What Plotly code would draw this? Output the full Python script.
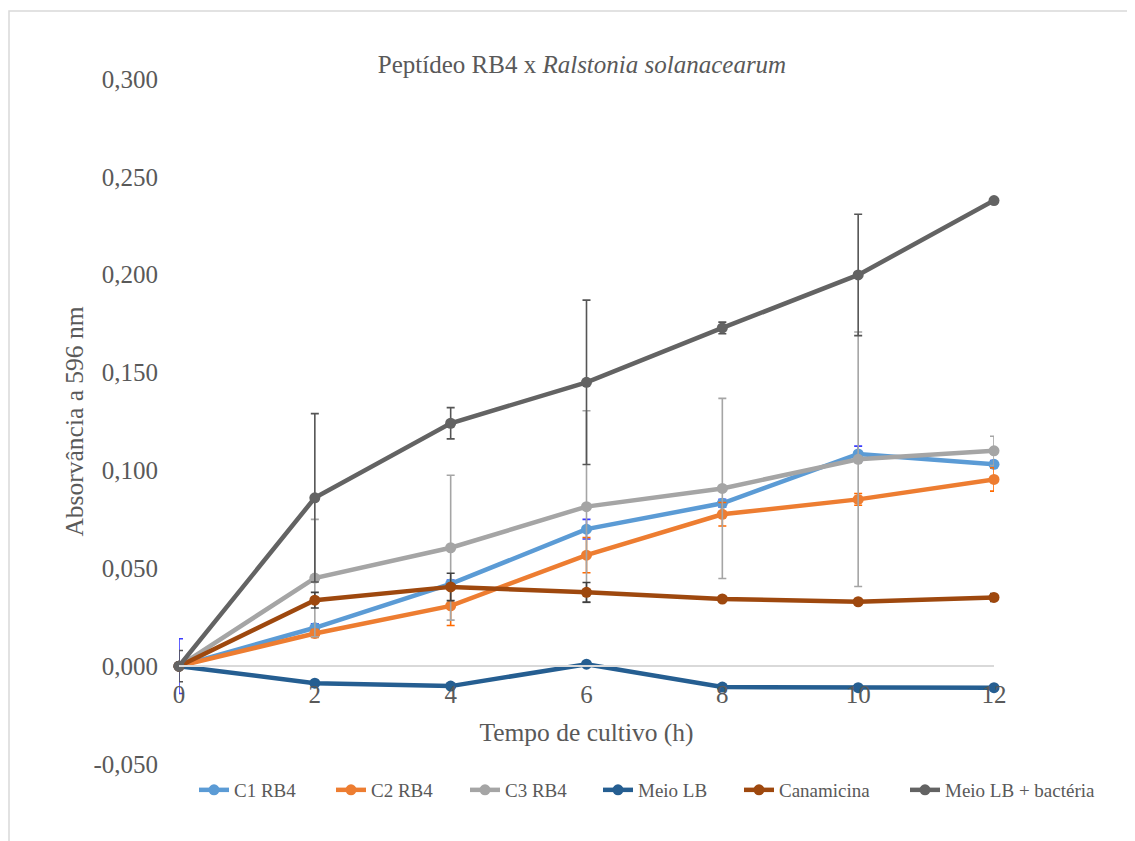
import plotly.graph_objects as go

hours = [0, 2, 4, 6, 8, 10, 12]

c1_rb4 = [0.000, 0.0196, 0.042, 0.070, 0.0832, 0.1084, 0.1031]
c2_rb4 = [0.000, 0.0167, 0.0308, 0.0567, 0.0776, 0.0852, 0.0954]
c3_rb4 = [0.000, 0.045, 0.0605, 0.0815, 0.0908, 0.1057, 0.110]
meio_lb = [0.000, -0.0087, -0.0102, 0.001, -0.0107, -0.011, -0.011]
canamicina = [0.000, 0.0337, 0.0405, 0.0377, 0.0343, 0.0329, 0.0351]
meio_bact = [0.000, 0.086, 0.1241, 0.145, 0.1728, 0.1999, 0.2379]

c1_err = [0.014, 0.002, 0.002, 0.005, 0.002, 0.004, 0.002]
c2_err = [0.000, 0.002, 0.010, 0.009, 0.006, 0.003, 0.006]
c3_err = [0.000, 0.030, 0.037, 0.049, 0.046, 0.065, 0.0075]
meio_lb_err = [0.000, 0.000, 0.000, 0.000, 0.000, 0.000, 0.000]
cana_err = [0.000, 0.004, 0.007, 0.005, 0.001, 0.001, 0.002]
bact_err = [0.008, 0.043, 0.008, 0.042, 0.003, 0.031, 0.000]

y_ticks = [-0.05, 0.0, 0.05, 0.10, 0.15, 0.20, 0.25, 0.30]
y_tick_text = ["-0,050", "0,000", "0,050", "0,100", "0,150", "0,200", "0,250", "0,300"]

series = [
    ("C1 RB4", c1_rb4, c1_err, "#5b9bd5", "#3b3bff"),
    ("C2 RB4", c2_rb4, c2_err, "#ed7d31", "#ff6a00"),
    ("C3 RB4", c3_rb4, c3_err, "#a5a5a5", "#a5a5a5"),
    ("Meio LB", meio_lb, meio_lb_err, "#255e91", "#255e91"),
    ("Canamicina", canamicina, cana_err, "#9e480e", "#404040"),
    ("Meio LB + bactéria", meio_bact, bact_err, "#636363", "#555555"),
]
# screen x where each legend entry's line starts
legend_starts = [201, 338, 472, 605, 746, 912]

FONT = "Liberation Serif, Times New Roman, serif"
GREY = "#595959"

OFF = 8  # page body margin
W, H = 1135 - OFF, 841 - OFF
# plot area in screen pixels: x 179..994, y 79..764
L, T = 179 - OFF, 79 - OFF
R, B = W - (994 - OFF), H - (764 - OFF)
pw, ph = W - L - R, H - T - B

def px_x(sx):
    return (sx - OFF - L) / pw

def px_y(sy):
    return 1 - (sy - OFF - T) / ph

fig = go.Figure()
legend_layouts = {}
for i, (name, vals, err, col, ecol) in enumerate(series):
    lg = f"legend{i + 2}"
    fig.add_trace(go.Scatter(
        x=hours, y=vals, name=name, mode="lines+markers",
        line=dict(color=col, width=4.5),
        marker=dict(color=col, size=11),
        error_y=dict(type="data", array=err, visible=True, color=ecol, thickness=1.6, width=4),
        cliponaxis=False,
        legend=lg,
        showlegend=True,
    ))
    legend_layouts[lg] = dict(
        orientation="h", x=px_x(legend_starts[i] - 7), xanchor="left",
        y=px_y(790), yanchor="middle",
        font=dict(size=19, family=FONT, color=GREY),
        itemwidth=30, bgcolor="rgba(0,0,0,0)",
    )

fig.update_layout(
    width=W, height=H,
    margin=dict(l=L, r=R, t=T, b=B),
    paper_bgcolor="white", plot_bgcolor="white",
    separators=",.",
    showlegend=True,
    font=dict(family=FONT, color=GREY),
    title=dict(
        text="Peptídeo RB4 x <i>Ralstonia solanacearum</i>",
        x=px_x(582), xref="paper", xanchor="center",
        y=1 - (64 - OFF) / H, yref="container", yanchor="middle",
        font=dict(size=25, family=FONT, color=GREY),
    ),
    xaxis=dict(
        range=[0, 12], tickvals=hours, ticktext=[str(h) for h in hours],
        anchor="free", position=1 / 7,
        showline=True, linecolor="#d9d9d9", linewidth=1.5,
        showgrid=False, zeroline=False, ticks="",
        ticklabelstandoff=6,
        tickfont=dict(size=25, family=FONT, color=GREY),
        title=dict(text="Tempo de cultivo (h)", font=dict(size=25.5, family=FONT, color=GREY), standoff=15),
    ),
    yaxis=dict(
        range=[-0.05, 0.30], tickvals=y_ticks, ticktext=y_tick_text,
        showgrid=False, zeroline=False, showline=False, ticks="",
        ticklabelstandoff=20,
        tickfont=dict(size=25, family=FONT, color=GREY),
        title=dict(text="Absorvância a 596 nm", font=dict(size=25.5, family=FONT, color=GREY), standoff=2),
    ),
    shapes=[
        dict(type="rect", xref="paper", yref="paper",
             x0=px_x(9), x1=px_x(1250),
             y0=px_y(950), y1=px_y(11),
             line=dict(color="#d9d9d9", width=1.5), layer="below"),
    ],
    **legend_layouts,
)

fig.write_html("out.html")
